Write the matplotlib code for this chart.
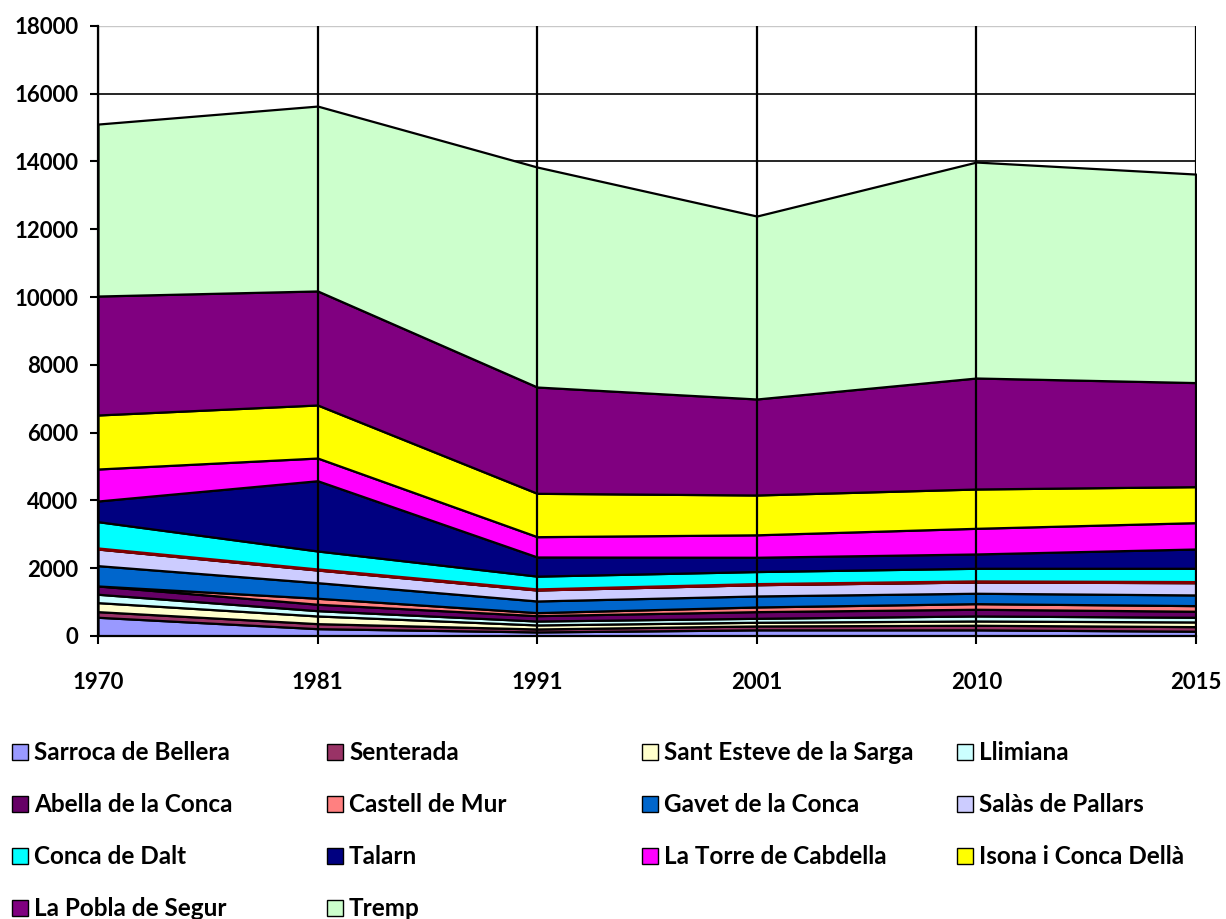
"""Stacked area chart of population by municipality (Pallars Jussà), 1970-2015."""

import matplotlib

matplotlib.use("Agg")
import matplotlib.pyplot as plt
import numpy as np
from matplotlib.patches import Rectangle

plt.rcParams["font.family"] = ["Lato", "DejaVu Sans"]
plt.rcParams["font.weight"] = "bold"

# Census years (category axis)
years = ["1970", "1981", "1991", "2001", "2010", "2015"]

# Population per municipality, bottom layer first
municipalities = [
    "Sarroca de Bellera",
    "Senterada",
    "Sant Esteve de la Sarga",
    "Llimiana",
    "Abella de la Conca",
    "Castell de Mur",
    "Gavet de la Conca",
    "Salàs de Pallars",
    "Conca de Dalt",
    "Talarn",
    "La Torre de Cabdella",
    "Isona i Conca Dellà",
    "La Pobla de Segur",
    "Tremp",
]
sarroca = [551, 215, 118, 180, 180, 140]
senterada = [166, 148, 88, 115, 136, 135]
sant_esteve = [266, 227, 119, 109, 126, 138]
llimiana = [247, 156, 115, 117, 148, 138]
abella = [245, 189, 159, 196, 198, 178]
castell_mur = [0, 177, 89, 138, 165, 166]
gavet = [599, 460, 344, 325, 307, 315]
salas = [492, 375, 325, 333, 333, 363]
conca_dalt = [806, 560, 408, 387, 404, 424]
talarn = [610, 2073, 565, 422, 422, 569]
torre_cabdella = [944, 670, 599, 662, 757, 777]
isona = [1594, 1565, 1280, 1175, 1160, 1062]
pobla_segur = [3510, 3365, 3136, 2833, 3275, 3071]
tremp = [5074, 5455, 6491, 5398, 6372, 6152]

colors = [
    "#9999FF", "#993366", "#FFFFCC", "#CCFFFF", "#660066", "#FF8080", "#0066CC",
    "#CCCCFF", "#00FFFF", "#000080", "#FF00FF", "#FFFF00", "#800080", "#CCFFCC",
]

y_ticks = list(range(0, 18001, 2000))


def main():
    series = np.array([
        sarroca, senterada, sant_esteve, llimiana, abella, castell_mur, gavet,
        salas, conca_dalt, talarn, torre_cabdella, isona, pobla_segur, tremp,
    ])
    x = np.arange(len(years))

    fig = plt.figure(figsize=(12.26, 9.19), dpi=100)
    ax = fig.add_axes([0.0799, 0.308, 0.8956, 0.6638])

    # Horizontal grid behind the areas
    for yv in y_ticks[1:-1]:
        ax.axhline(yv, color="black", lw=1.2, zorder=0)
    ax.axhline(y_ticks[-1], color="#c8c8c8", lw=1.0, zorder=0)

    ax.stackplot(x, series, colors=colors, edgecolor="black", linewidth=1.6, zorder=2)

    # Dark red line on top of Salàs de Pallars
    cum = np.cumsum(series, axis=0)
    ax.plot(x, cum[7], color="#800000", lw=2.4, zorder=3)

    # Vertical category lines over the areas
    for xv in x:
        ax.axvline(xv, color="black", lw=1.6, zorder=4)

    ax.set_xlim(0, len(years) - 1)
    ax.set_ylim(0, 18000)
    ax.set_xticks(x)
    ax.set_xticklabels(years)
    ax.set_yticks(y_ticks)
    ax.tick_params(axis="both", direction="out", length=6, width=1.5,
                   labelsize=16, color="black")
    ax.tick_params(axis="x", pad=20)
    ax.tick_params(axis="y", pad=8)
    for lab in ax.get_xticklabels() + ax.get_yticklabels():
        lab.set_fontweight("bold")

    for side in ["top", "right"]:
        ax.spines[side].set_visible(False)
    ax.spines["left"].set_linewidth(1.6)
    ax.spines["bottom"].set_linewidth(1.6)
    ax.spines["left"].set_zorder(5)
    ax.spines["bottom"].set_zorder(5)

    # Legend: 4 columns, filled row by row
    W, H = 1226, 919
    col_x = [12, 327, 642, 957]
    row_y = [752, 804, 856, 908]
    box = 16
    for i, (name, col) in enumerate(zip(municipalities, colors)):
        r, c = divmod(i, 4)
        x0 = col_x[c]
        y0 = row_y[r]
        fig.patches.append(Rectangle(
            (x0 / W, (H - y0 - box / 2) / H), box / W, box / H,
            facecolor=col, edgecolor="black", lw=1.0, transform=fig.transFigure,
        ))
        fig.text((x0 + box + 6) / W, (H - y0) / H, name, fontsize=17.5,
                 fontweight="bold", va="center", ha="left")

    fig.savefig("out.png", dpi=100)
    plt.close(fig)


if __name__ == "__main__":
    main()
